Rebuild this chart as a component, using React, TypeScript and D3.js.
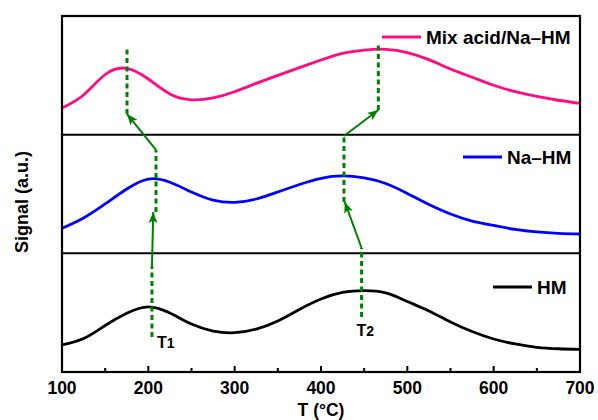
import * as d3 from 'd3';

// ─── Data ─────────────────────────────────────────────────────────────────────
const temps = [100, 125, 150, 175, 200, 225, 250, 275, 300, 325, 350, 375, 400,
  425, 450, 475, 500, 525, 550, 575, 600, 625, 650, 675, 700];

// stacked signal, each panel is one unit tall (HM 0–1, Na–HM 1–2, Mix 2–3)
const hmSignal = [0.228, 0.282, 0.392, 0.495, 0.549, 0.497, 0.404, 0.345, 0.331,
  0.362, 0.430, 0.527, 0.615, 0.670, 0.685, 0.666, 0.594, 0.514, 0.421, 0.341,
  0.278, 0.236, 0.208, 0.196, 0.191];
const naHmSignal = [1.211, 1.298, 1.416, 1.542, 1.626, 1.599, 1.517, 1.449, 1.430,
  1.458, 1.517, 1.580, 1.632, 1.652, 1.635, 1.588, 1.504, 1.411, 1.331, 1.272,
  1.235, 1.201, 1.180, 1.169, 1.163];
const mixSignal = [2.225, 2.334, 2.507, 2.559, 2.469, 2.343, 2.294, 2.310, 2.362,
  2.432, 2.500, 2.565, 2.629, 2.685, 2.713, 2.719, 2.692, 2.632, 2.553, 2.484,
  2.416, 2.362, 2.322, 2.290, 2.264];

const xTicks = [100, 200, 300, 400, 500, 600, 700];
const xMinorTicks = [150, 250, 350, 450, 550, 650];
const panelDividers = [1, 2];

// peak shift guides: [T, from, to] dashed, [T0, s0, T1, s1] arrows
const t1Dashed = [[204.2, 0.295, 0.885], [208.9, 1.348, 1.871], [175.3, 2.174, 2.747]];
const t1Arrows = [[204.2, 0.885, 205.7, 1.348], [208.9, 1.871, 175.3, 2.174]];
const t2Dashed = [[447.0, 0.463, 1.045], [426.6, 1.433, 1.989], [466.4, 2.208, 2.772]];
const t2Arrows = [[447.0, 1.045, 427.5, 1.433], [426.6, 1.989, 466.4, 2.208]];

const series = [
  { name: 'HM', values: hmSignal, color: '#000000', legendX: 493, legendY: 287 },
  { name: 'Na–HM', values: naHmSignal, color: '#0000ff', legendX: 463, legendY: 157 },
  { name: 'Mix acid/Na–HM', values: mixSignal, color: '#ff0a84', legendX: 382, legendY: 37 },
];

export default function App() {
  // ── Dimensions ──────────────────────────────────────────────────────────────
  const W = 598;
  const H = 420;
  const m = { top: 16, right: 18, bottom: 48, left: 62 };
  const iW = W - m.left - m.right;
  const iH = H - m.top - m.bottom;

  const x = d3.scaleLinear().domain([100, 700]).range([0, iW]);
  const y = d3.scaleLinear().domain([0, 3]).range([iH, 0]);

  const line = d3.line<[number, number]>()
    .x(d => x(d[0]))
    .y(d => y(d[1]))
    .curve(d3.curveNatural);

  const green = '#008000';
  const font = 'Arial, "Liberation Sans", sans-serif';

  const dashed = (arr: number[][], key: string) => arr.map((d, i) => (
    <line key={key + i} x1={x(d[0])} x2={x(d[0])} y1={y(d[1])} y2={y(d[2])}
      stroke={green} strokeWidth={3} strokeDasharray="5 3.5" />
  ));
  const arrows = (arr: number[][], key: string) => arr.map((d, i) => (
    <line key={key + i} x1={x(d[0])} y1={y(d[1])} x2={x(d[2])} y2={y(d[3])}
      stroke={green} strokeWidth={2} markerEnd="url(#arrowHead)" />
  ));

  return (
    <svg width={W} height={H} style={{ position: 'absolute', left: 0, top: 0, background: '#fff' }}
      fontFamily={font}>
      <defs>
        <marker id="arrowHead" markerUnits="userSpaceOnUse" markerWidth={12} markerHeight={10}
          refX={11} refY={4.5} orient="auto">
          <path d="M0,0 L11,4.5 L0,9 L2.5,4.5 z" fill={green} />
        </marker>
      </defs>
      <g transform={`translate(${m.left},${m.top})`}>
        {/* dividers between panels */}
        {panelDividers.map(v => (
          <line key={v} x1={0} x2={iW} y1={y(v)} y2={y(v)} stroke="#000" strokeWidth={2} />
        ))}

        {/* curves */}
        {series.map(s => (
          <path key={s.name} d={line(temps.map((t, i) => [t, s.values[i]] as [number, number])) || ''}
            fill="none" stroke={s.color} strokeWidth={2.8} />
        ))}

        {/* guides */}
        {dashed(t1Dashed, 't1d')}
        {arrows(t1Arrows, 't1a')}
        {dashed(t2Dashed, 't2d')}
        {arrows(t2Arrows, 't2a')}

        <text x={x(210)} y={y(0.2)} fontSize={16} fontWeight="bold">T<tspan fontSize={14}>1</tspan></text>
        <text x={x(441)} y={y(0.3)} fontSize={16} fontWeight="bold">T<tspan fontSize={14}>2</tspan></text>

        {/* ticks */}
        {xTicks.map(t => (
          <g key={t}>
            <line x1={x(t)} x2={x(t)} y1={iH} y2={iH - 6} stroke="#000" strokeWidth={2} />
            <text x={x(t)} y={iH + 22} textAnchor="middle" fontSize={17.5} fontWeight="bold">{t}</text>
          </g>
        ))}
        {xMinorTicks.map(t => (
          <line key={t} x1={x(t)} x2={x(t)} y1={iH} y2={iH - 4} stroke="#000" strokeWidth={2} />
        ))}

        {/* frame */}
        <rect x={0} y={0} width={iW} height={iH} fill="none" stroke="#000" strokeWidth={2.2} />

        <text x={iW / 2} y={iH + 44} textAnchor="middle" fontSize={17.5} fontWeight="bold">T (°C)</text>
        <text transform={`translate(${-34},${iH / 2 + 8}) rotate(-90)`} textAnchor="middle"
          fontSize={18} fontWeight="bold">Signal (a.u.)</text>
      </g>

      {/* legend */}
      {series.map(s => (
        <g key={s.name}>
          <line x1={s.legendX} x2={s.legendX + 39} y1={s.legendY} y2={s.legendY}
            stroke={s.color} strokeWidth={3} />
          <text x={s.legendX + 44} y={s.legendY + 7} fontSize={19} fontWeight="bold">{s.name}</text>
        </g>
      ))}
    </svg>
  );
}
